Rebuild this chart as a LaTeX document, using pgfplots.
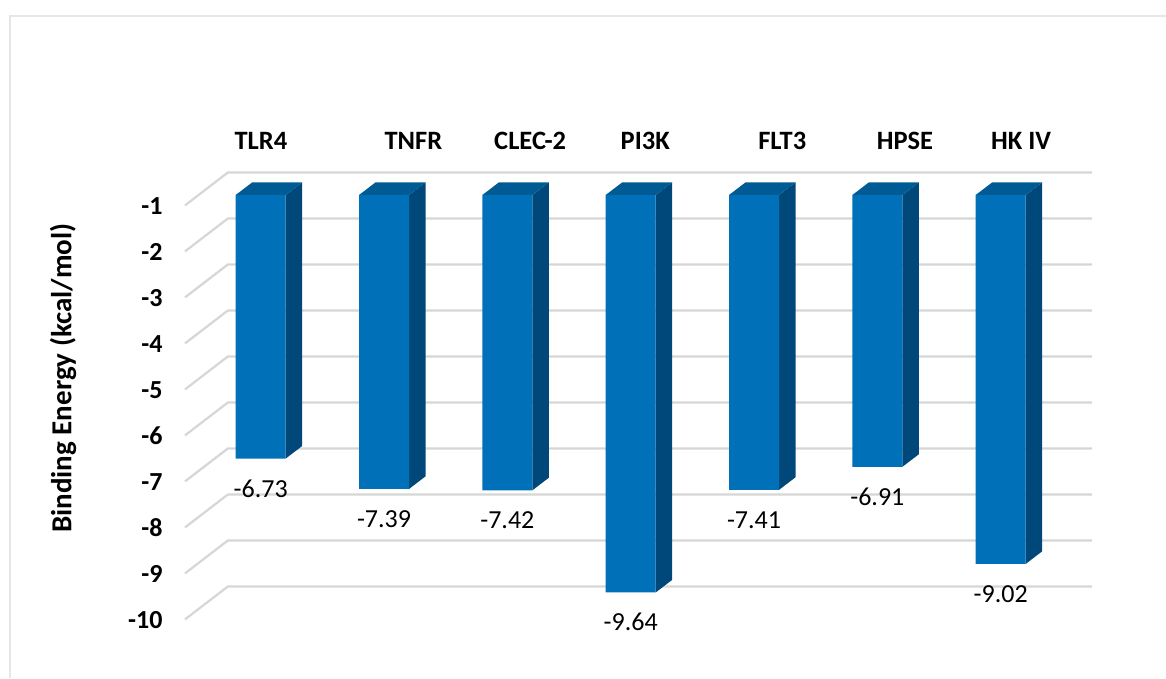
\documentclass[border=0pt]{standalone}
\usepackage{fontspec}
\setmainfont{Carlito}
\usepackage{pgfplots}
\usepackage{pgfplotstable}
\pgfplotsset{compat=1.18}

\definecolor{barfront}{HTML}{0070B8}
\definecolor{bartop}{HTML}{005A94}
\definecolor{barside}{HTML}{00487A}
\definecolor{wallline}{HTML}{D6D6D6}
\definecolor{frameline}{HTML}{E6E6E6}

\newcommand{\labelfont}{\fontsize{26}{31}\selectfont}
\newcommand{\catfont}{\fontsize{26.5}{31}\selectfont}
\newcommand{\titlefont}{\fontsize{29}{34}\selectfont}

% bar position and binding energy
\pgfplotstableread{
pos energy
0 -6.73
1 -7.39
2 -7.42
3 -9.64
4 -7.41
5 -6.91
6 -9.02
}\energies

% right front x, right back x, value, value at the back
\newcommand{\sideface}[4]{\addplot[fill=barside,draw=none] coordinates {(#1,-1) (#2,-0.726) (#2,#4) (#1,#3)} --cycle;}
% left front x, left back x, right back x, right front x
\newcommand{\topface}[4]{\addplot[fill=bartop,draw=none] coordinates {(#1,-1) (#2,-0.726) (#3,-0.726) (#4,-1)} --cycle;}
% grid line running along the floor side wall and the back wall
\newcommand{\wall}[2]{\addplot[wallline,line width=2.2pt] coordinates {(-0.6138,#1) (-0.2652,#2) (6.7404,#2)};}

\begin{document}
\begin{tikzpicture}
	\path[use as bounding box] (0,0) rectangle (1166pt,678pt);
	\draw[frameline,line width=2pt] (10pt,0pt) -- (10pt,662pt) -- (1166pt,662pt);

	% walls and the side and top faces
	\begin{axis}[
		at={(184pt,23pt)},
		anchor=south west,
		scale only axis,
		x=123.33pt,
		y=46pt,
		xmin=-0.6219,
		xmax=6.7486,
		ymin=-11,
		ymax=-1,
		hide axis,
		clip=false,
	]
	\wall{-1.226}{-0.509}
	\wall{-2.226}{-1.509}
	\wall{-3.226}{-2.509}
	\wall{-4.226}{-3.509}
	\wall{-5.226}{-4.509}
	\wall{-6.226}{-5.509}
	\wall{-7.226}{-6.509}
	\wall{-8.226}{-7.509}
	\wall{-9.226}{-8.509}
	\wall{-10.226}{-9.509}

	\sideface{0.2027}{0.3365}{-6.73}{-6.456}
	\sideface{1.2027}{1.3365}{-7.39}{-7.116}
	\sideface{2.2027}{2.3365}{-7.42}{-7.146}
	\sideface{3.2027}{3.3365}{-9.64}{-9.366}
	\sideface{4.2027}{4.3365}{-7.41}{-7.136}
	\sideface{5.2027}{5.3365}{-6.91}{-6.636}
	\sideface{6.2027}{6.3365}{-9.02}{-8.746}

	\topface{-0.2027}{-0.0689}{0.3365}{0.2027}
	\topface{0.7973}{0.9311}{1.3365}{1.2027}
	\topface{1.7973}{1.9311}{2.3365}{2.2027}
	\topface{2.7973}{2.9311}{3.3365}{3.2027}
	\topface{3.7973}{3.9311}{4.3365}{4.2027}
	\topface{4.7973}{4.9311}{5.3365}{5.2027}
	\topface{5.7973}{5.9311}{6.3365}{6.2027}
	\end{axis}

	% front faces, cut off at -1 by the axis clip
	\begin{axis}[
		at={(184pt,23pt)},
		anchor=south west,
		scale only axis,
		x=123.33pt,
		y=46pt,
		xmin=-0.6219,
		xmax=6.7486,
		ymin=-11,
		ymax=-1,
		axis line style={draw=none},
		major tick style={draw=none},
		/pgf/number format/assume math mode=true,
		ytick={-10,-9,-8,-7,-6,-5,-4,-3,-2,-1},
		y tick label style={font=\labelfont\bfseries,anchor=east,xshift=-18pt,yshift=-11pt},
		xtick={0.002,1.238,2.185,3.118,4.229,5.224,6.165},
		xticklabels={TLR4,TNFR,CLEC-2,PI3K,FLT3,HPSE,HK IV},
		xticklabel pos=upper,
		x tick label style={font=\catfont\bfseries,anchor=base,yshift=45pt},
		every axis y label/.style={at={(axis description cs:-0.1331,0.602)},rotate=90,anchor=center},
		ylabel={\titlefont\bfseries Binding Energy (kcal/mol)},
	]
	\addplot[
		ybar,
		bar width=50pt,
		bar shift=0pt,
		fill=barfront,
		draw=none,
		nodes near coords={\pgfmathprintnumber[fixed,fixed zerofill,precision=2]{\pgfplotspointmeta}},
		every node near coord/.style={font=\labelfont,anchor=base,yshift=-38.5pt,text=black},
	] table[x=pos,y=energy] {\energies};
	\end{axis}
\end{tikzpicture}
\end{document}
